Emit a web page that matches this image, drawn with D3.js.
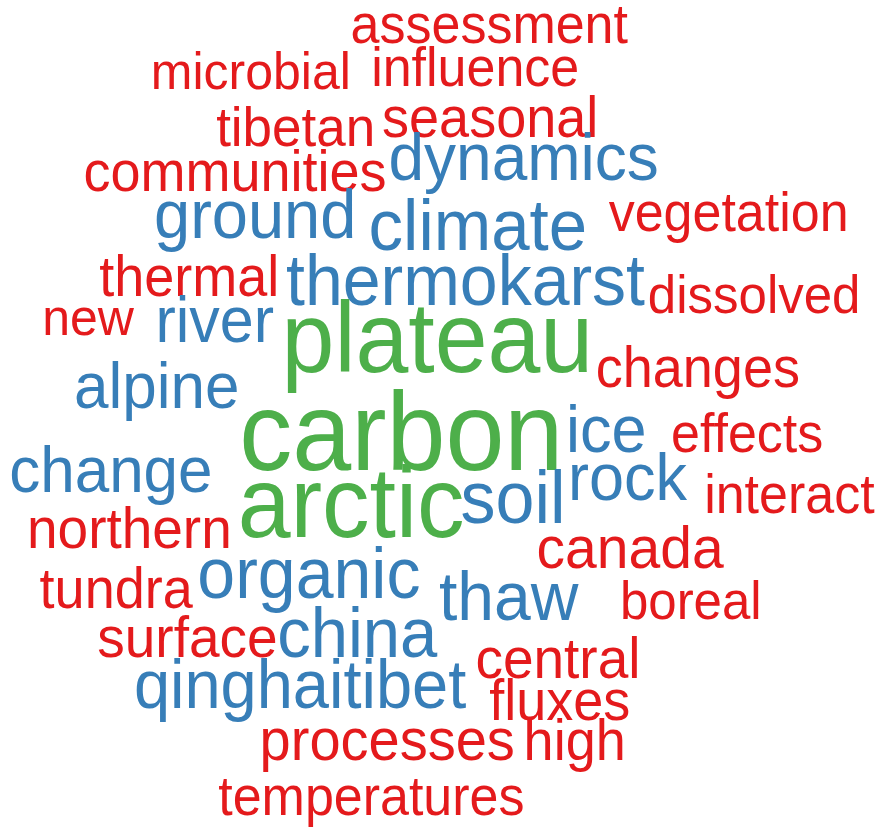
<!DOCTYPE html>
<html>
<head>
<meta charset="utf-8">
<script src="https://cdn.jsdelivr.net/npm/d3@7"></script>
<style>
  html, body { margin: 0; padding: 0; background: #fff; }
  svg text { font-family: "Liberation Sans", Arial, sans-serif; }
</style>
</head>
<body>
<div id="cloud"></div>
<script>
//==============================
// WORD CLOUD DATA
//==============================
// words of the cloud
const words = [
  "assessment", "microbial", "influence", "tibetan", "seasonal",
  "communities", "dynamics", "ground", "climate", "vegetation",
  "thermal", "thermokarst", "dissolved", "new", "river",
  "plateau", "changes", "alpine", "carbon", "ice",
  "effects", "change", "rock", "arctic", "soil",
  "interact", "northern", "canada", "organic", "thaw",
  "tundra", "boreal", "surface", "china", "central",
  "qinghaitibet", "fluxes", "processes", "high", "temperatures"
];

// word frequencies (same order as words)
const counts = [
  12, 10, 12, 13, 14,
  14, 24, 25, 29, 12,
  14, 28, 11, 10, 21,
  55, 14, 22, 66, 23,
  12, 22, 23, 55, 30,
  12, 15, 17, 28, 26,
  14, 11, 15, 27, 15,
  25, 14, 16, 14, 12
];

// frequency class: 0 = low, 1 = mid, 2 = top
const groups = [
  0, 0, 0, 0, 0,
  0, 1, 1, 1, 0,
  0, 1, 0, 0, 1,
  2, 0, 1, 2, 1,
  0, 1, 1, 2, 1,
  0, 0, 0, 1, 1,
  0, 0, 0, 1, 0,
  1, 0, 0, 0, 0
];

// placement from the cloud layout, unit square (x = centre, y = baseline)
const layoutX = [
  0.556, 0.285, 0.540, 0.336, 0.557,
  0.267, 0.595, 0.290, 0.543, 0.828,
  0.215, 0.529, 0.857, 0.100, 0.244,
  0.497, 0.793, 0.178, 0.456, 0.689,
  0.849, 0.126, 0.713, 0.399, 0.583,
  0.897, 0.147, 0.716, 0.351, 0.578,
  0.132, 0.785, 0.213, 0.406, 0.634,
  0.341, 0.636, 0.440, 0.653, 0.422
];
const layoutY = [
  0.052, 0.107, 0.104, 0.176, 0.165,
  0.231, 0.217, 0.287, 0.302, 0.279,
  0.357, 0.368, 0.378, 0.405, 0.413,
  0.449, 0.467, 0.493, 0.568, 0.546,
  0.546, 0.594, 0.604, 0.649, 0.632,
  0.620, 0.662, 0.686, 0.722, 0.749,
  0.734, 0.748, 0.793, 0.793, 0.819,
  0.855, 0.870, 0.918, 0.918, 0.984
];

//==============================
// DRAW WITH D3
//==============================
const width = 880,
    height = 828,
    stretch = 1.05; // the original plot is a little taller than wide

const svg = d3.select("#cloud").append("svg")
    .attr("width", width)
    .attr("height", height);

const x = d3.scaleLinear().domain([0, 1]).range([0, width]);
const y = d3.scaleLinear().domain([0, 1]).range([0, height]);
// font size from frequency
const size = d3.scaleLinear()
    .domain([d3.min(counts), d3.max(counts)])
    .range([50, 106]);
// Set1 colours: red, blue, green
const color = d3.scaleOrdinal()
    .domain([0, 1, 2])
    .range([d3.schemeSet1[0], d3.schemeSet1[1], d3.schemeSet1[2]]);

const data = words.map((w, i) => ({
    word: w,
    count: counts[i],
    group: groups[i],
    x: layoutX[i],
    y: layoutY[i]
}));

svg.selectAll("text")
    .data(data)
    .join("text")
    .attr("transform", d => `translate(${x(d.x)},${y(d.y)}) scale(1,${stretch})`)
    .attr("text-anchor", "middle")
    .style("font-size", d => size(d.count) + "px")
    .attr("fill", d => color(d.group))
    .text(d => d.word);
</script>
</body>
</html>
